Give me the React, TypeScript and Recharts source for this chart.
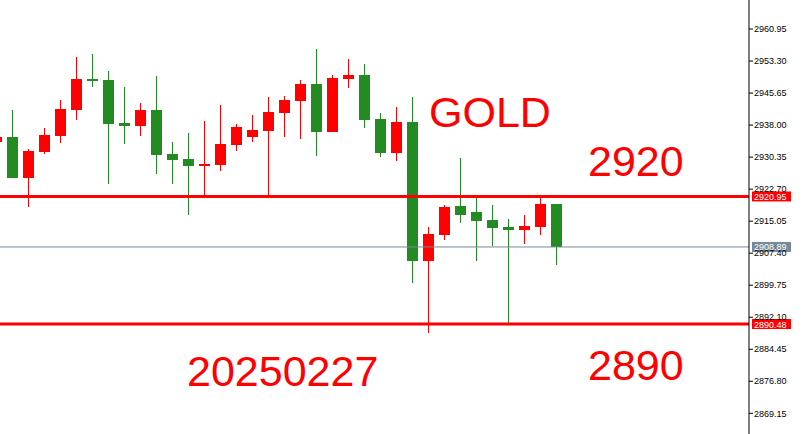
import { ComposedChart, Bar, XAxis, YAxis, ReferenceLine } from "recharts";

// MT4-style candles: red = close above open, green = close below open
const slots = ["c0", "c1", "c2", "c3", "c4", "c5", "c6", "c7", "c8", "c9", "c10", "c11", "c12", "c13", "c14", "c15", "c16", "c17", "c18", "c19", "c20", "c21", "c22", "c23", "c24", "c25", "c26", "c27", "c28", "c29", "c30", "c31", "c32", "c33", "c34", "c35"];
const opens = [2934.03, 2935.15, 2925.43, 2931.64, 2935.46, 2941.67, 2949.01, 2948.77, 2938.5, 2937.85, 2941.6, 2931.09, 2929.9, 2928.3, 2928.53, 2933.31, 2935.22, 2936.66, 2940.96, 2943.82, 2947.81, 2936.42, 2949.08, 2949.96, 2939.45, 2931.4, 2938.73, 2905.6, 2911.81, 2918.67, 2917.24, 2915.32, 2913.65, 2913.01, 2913.72, 2919.15];
const highs = [2935.6, 2941.6, 2932.29, 2937.3, 2943.99, 2954.26, 2954.98, 2950.92, 2947.1, 2943.27, 2949.72, 2933.96, 2936.11, 2938.97, 2942.8, 2938.26, 2940.41, 2944.71, 2944.95, 2948.77, 2956.17, 2949.96, 2953.78, 2952.59, 2940.89, 2942.32, 2944.71, 2913.65, 2918.91, 2930.14, 2920.8, 2918.91, 2915.56, 2916.52, 2920.9, 2919.15];
const lows = [2933.6, 2925.43, 2918.5, 2931.16, 2933.79, 2939.28, 2947.17, 2924.0, 2933.55, 2935.46, 2926.38, 2924.0, 2916.59, 2921.2, 2927.1, 2931.88, 2934.03, 2921.2, 2935.22, 2934.75, 2930.68, 2936.42, 2946.93, 2937.37, 2930.45, 2929.49, 2900.35, 2888.33, 2910.62, 2914.68, 2905.6, 2909.19, 2890.48, 2909.66, 2911.81, 2904.65];
const closes = [2935.15, 2925.43, 2931.81, 2935.63, 2941.84, 2949.01, 2948.6, 2938.33, 2937.85, 2941.6, 2930.92, 2929.73, 2928.3, 2928.7, 2933.48, 2937.54, 2936.82, 2941.12, 2943.99, 2947.81, 2936.42, 2949.25, 2949.96, 2939.28, 2931.4, 2938.73, 2905.6, 2911.98, 2918.43, 2916.59, 2915.16, 2913.49, 2913.01, 2913.96, 2919.15, 2908.89];

const priceTicks = [2869.15, 2876.8, 2884.45, 2892.1, 2899.75, 2907.4, 2915.05, 2922.7, 2930.35, 2938.0, 2945.65, 2953.3, 2960.95];
const resistance = 2920.95;
const support = 2890.48;
const bid = 2908.89;

const RED = "#ff0000";
const GREEN = "#228b22";
const GREY = "#778899";
const FONT = "'Liberation Sans', Arial, sans-serif";

const data = slots.map((t, i) => ({
  t,
  open: opens[i],
  high: highs[i],
  low: lows[i],
  close: closes[i],
  range: [lows[i], highs[i]],
}));

const Candle = (props: any) => {
  const { x, y, width, height, payload } = props;
  const { open, close, high, low } = payload;
  const top = Math.min(y, y + height);
  const span = Math.abs(height);
  const ppu = span / (high - low);
  const yOf = (v: number) => top + (high - v) * ppu;
  const color = close >= open ? RED : GREEN;
  const cx = Math.round(x + width / 2);
  const bodyTop = yOf(Math.max(open, close));
  const bodyH = Math.max(1, yOf(Math.min(open, close)) - bodyTop);
  return (
    <g shapeRendering="crispEdges">
      <rect x={cx} y={top} width={1} height={span} fill={color} />
      <rect x={cx - 5} y={bodyTop} width={11} height={bodyH} fill={color} />
    </g>
  );
};

const tag = (value: number, fill: string) => (p: any) => {
  const vb = p.viewBox;
  const x = vb.x + vb.width + 3;
  const y = vb.y;
  return (
    <g>
      <rect x={x} y={y - 5} width={39} height={10} fill={fill} />
      <text x={x + 2} y={y + 3.5} fill="#fff" fontSize={9} fontFamily={FONT}>
        {value.toFixed(2)}
      </text>
    </g>
  );
};

const notes = [
  { text: "GOLD", x: 429, y: 127 },
  { text: "2920", x: 588, y: 176 },
  { text: "20250227", x: 187, y: 386 },
  { text: "2890", x: 588, y: 380 },
];

export default function App() {
  return (
    <div
      style={{
        position: "absolute",
        left: 0,
        top: 0,
        width: 802,
        height: 434,
        overflow: "hidden",
        background: "#fff",
      }}
    >
      <div style={{ position: "absolute", left: -12, top: 0 }}>
        <ComposedChart width={814} height={434} data={data} margin={{ top: 0, right: 0, bottom: 0, left: 0 }}>
          <XAxis dataKey="t" hide padding={{ left: 0, right: 185 }} />
          <YAxis
            orientation="right"
            width={53}
            type="number"
            domain={[2864.21, 2967.88]}
            allowDataOverflow
            ticks={priceTicks}
            interval={0}
            tickFormatter={(v: number) => v.toFixed(2)}
            tick={{ fill: "#000", fontSize: 9, fontFamily: FONT }}
            tickSize={4}
            tickMargin={1}
            axisLine={{ stroke: "#000" }}
            tickLine={{ stroke: "#000" }}
          />
          <Bar dataKey="range" shape={<Candle />} isAnimationActive={false} />
          <ReferenceLine y={bid} stroke={GREY} strokeWidth={1} label={tag(bid, GREY)} />
          <ReferenceLine y={resistance} stroke={RED} strokeWidth={3} label={tag(resistance, RED)} />
          <ReferenceLine y={support} stroke={RED} strokeWidth={3} label={tag(support, RED)} />
        </ComposedChart>
      </div>
      <svg width={802} height={434} style={{ position: "absolute", left: 0, top: 0, pointerEvents: "none" }}>
        {notes.map((n) => (
          <text key={n.text} x={n.x} y={n.y} fill={RED} fontSize={43} fontFamily={FONT}>
            {n.text}
          </text>
        ))}
      </svg>
    </div>
  );
}
